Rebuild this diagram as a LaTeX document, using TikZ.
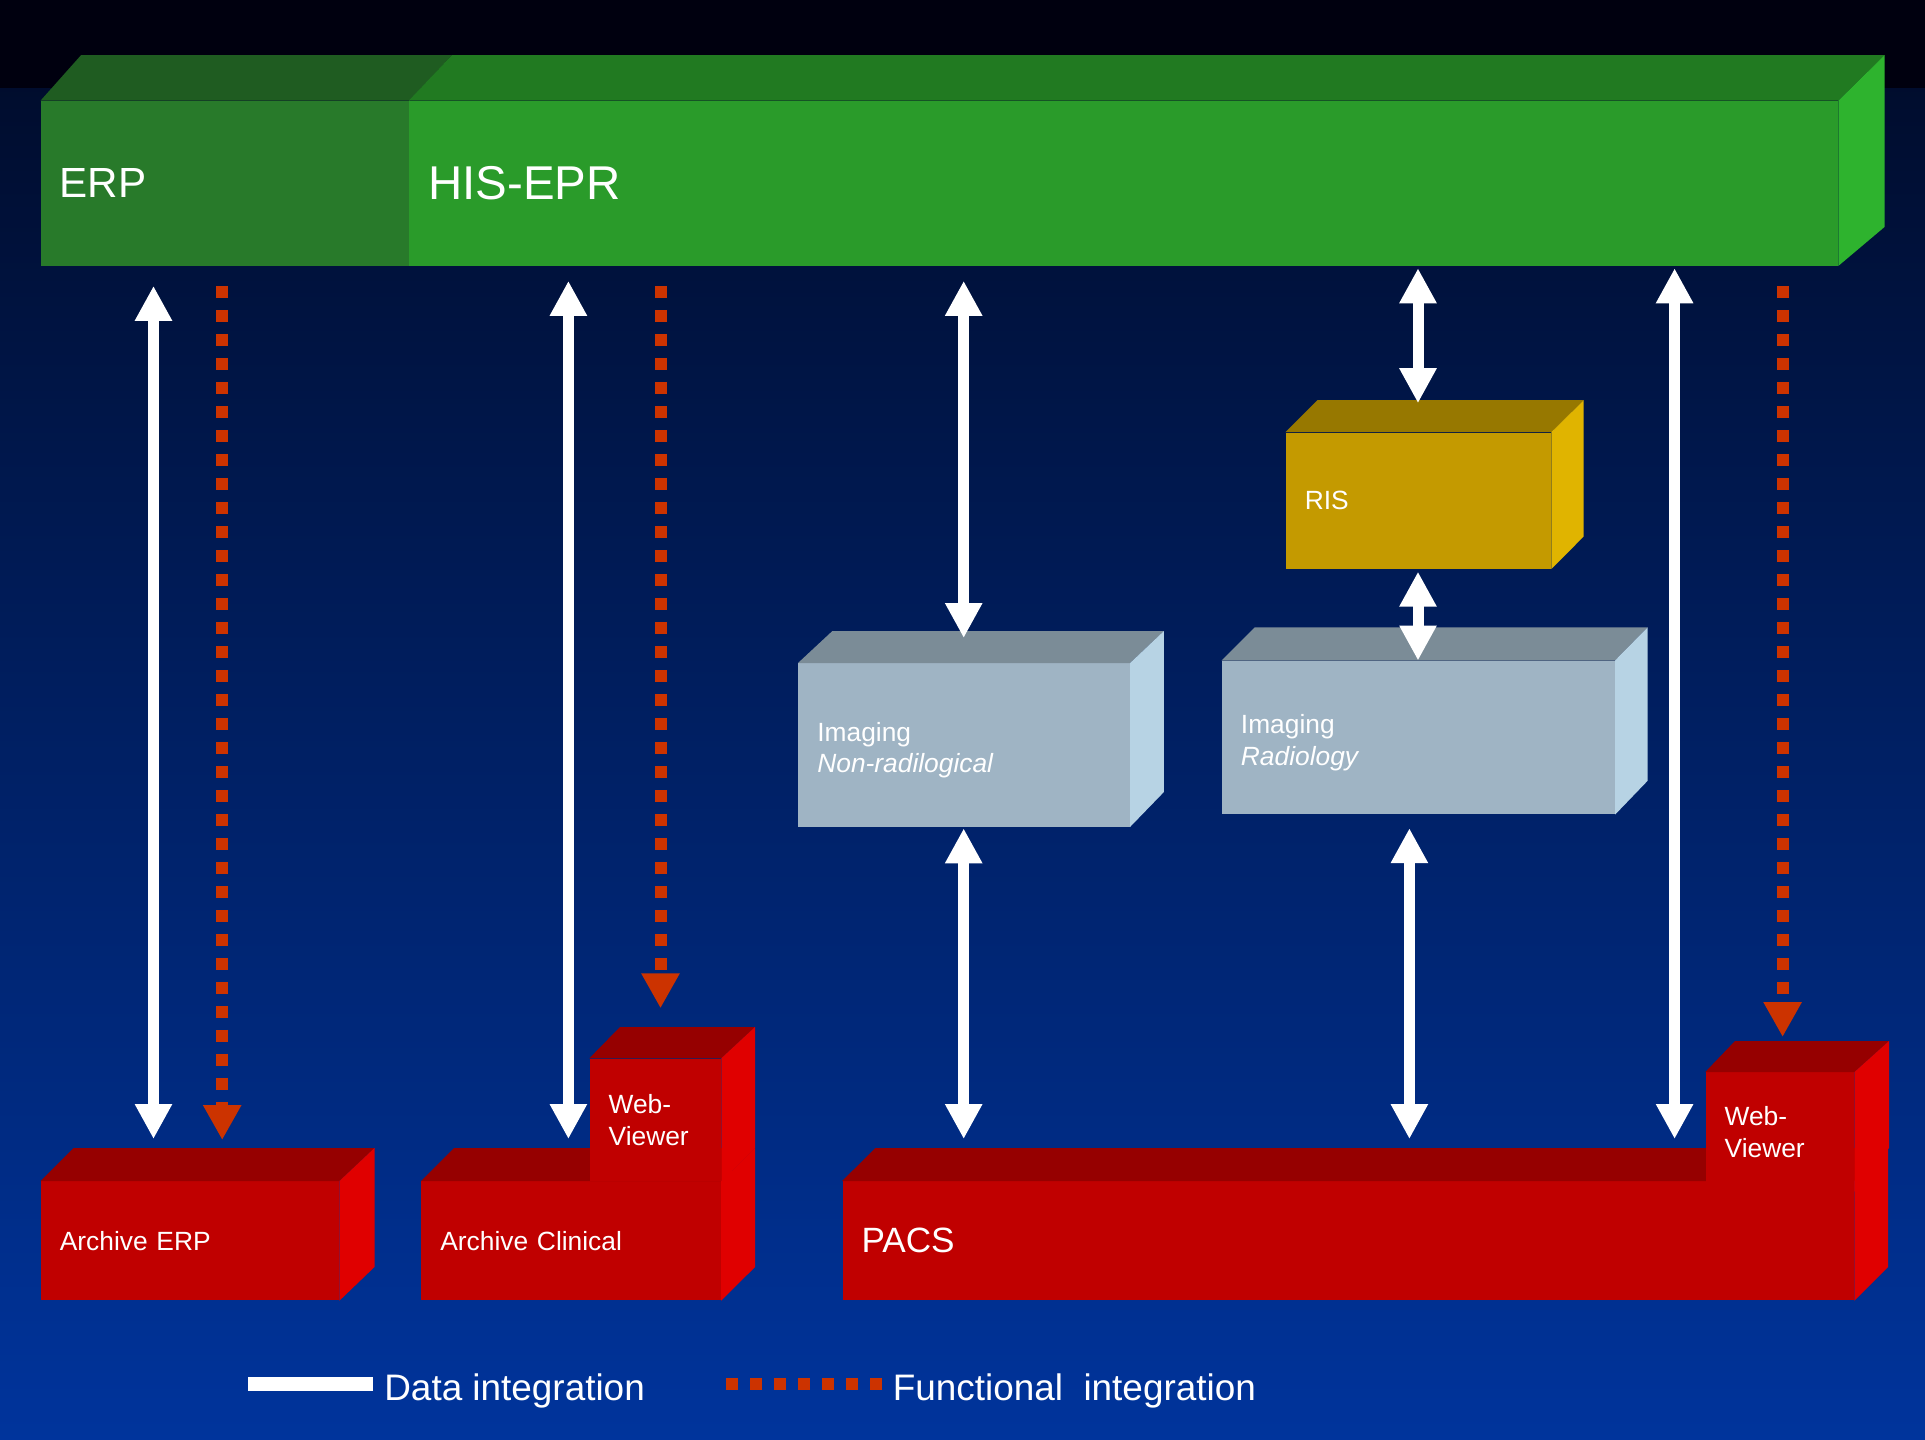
\documentclass[tikz,border=0pt]{standalone}
\usepackage{fontspec}
\setmainfont{Liberation Sans}
\usetikzlibrary{arrows.meta,calc}
\definecolor{BgTop}{HTML}{00000F}
\definecolor{BgMid}{HTML}{001F5C}
\definecolor{BgBot}{HTML}{00349C}
\definecolor{ErpFront}{HTML}{287A2A}
\definecolor{ErpTop}{HTML}{1F5C21}
\definecolor{HisFront}{HTML}{2A9B2A}
\definecolor{HisTop}{HTML}{217A21}
\definecolor{HisSide}{HTML}{2EB32E}
\definecolor{RisFront}{HTML}{C49A00}
\definecolor{RisTop}{HTML}{977800}
\definecolor{RisSide}{HTML}{E0B400}
\definecolor{ImgFront}{HTML}{9FB4C4}
\definecolor{ImgTop}{HTML}{7B8C97}
\definecolor{ImgSide}{HTML}{B7D3E4}
\definecolor{RedFront}{HTML}{C00000}
\definecolor{RedTop}{HTML}{960000}
\definecolor{RedSide}{HTML}{E00000}
\definecolor{Func}{HTML}{CC3300}
\tikzset{
 box/.style={anchor=north west,inner xsep=0.38cm,inner ysep=0pt,align=left,text=white,font=\fontsize{15}{18}\selectfont},
 dataflow/.style={{Triangle[length=0.7cm,width=0.7cm]}-{Triangle[length=0.7cm,width=0.7cm]},line width=0.22cm,draw=white},
 funcflow/.style={-{Triangle[length=0.7cm,width=0.72cm]},line width=0.24cm,draw=Func,dash pattern=on 0.24cm off 0.24cm},
 keytext/.style={anchor=base west,inner sep=0pt,text=white,font=\fontsize{21}{25}\selectfont}
}
\begin{document}
\begin{tikzpicture}[x=0.02cm,y=-0.02cm]
% background
\fill[BgTop] (0,0) rectangle (1925,88);
\shade[top color=BgTop!60!BgMid,middle color=BgMid,bottom color=BgBot] (0,88) rectangle (1925,1440);
% top bar
\node[box,fill=ErpFront,minimum height=3.29cm,text width=6.606cm,font=\fontsize{24}{28}\selectfont] (erp) at (40.5,100.7) {ERP};
\fill[ErpTop] (erp.north west) -- (81,55.2) -- (451.8,55.2) -- (erp.north east) -- cycle;
\node[box,fill=HisFront,minimum height=3.29cm,text width=27.824cm,font=\fontsize{27}{32}\selectfont] (his) at (408.8,100.7) {HIS-EPR};
\fill[HisTop] (his.north west) -- (451.8,55.2) -- (1884.5,55.2) -- (his.north east) -- cycle;
\fill[HisSide] (his.north east) -- (1884.5,55.2) -- (1884.5,227) -- (his.south east) -- cycle;
% middle boxes
\node[box,fill=RisFront,minimum height=2.724cm,text width=4.544cm] (ris) at (1285.4,432.2) {RIS};
\fill[RisTop] (ris.north west) -- (1317.3,400.2) -- (1583.7,400.2) -- (ris.north east) -- cycle;
\fill[RisSide] (ris.north east) -- (1583.7,400.2) -- (1583.7,536.5) -- (ris.south east) -- cycle;
\node[box,fill=ImgFront,minimum height=3.264cm,text width=5.87cm] (nonrad) at (798,663) {\rule{0pt}{17pt}Imaging\\\textit{Non-radilogical}};
\fill[ImgTop] (nonrad.north west) -- (832.4,631) -- (1163.9,631) -- (nonrad.north east) -- cycle;
\fill[ImgSide] (nonrad.north east) -- (1163.9,631) -- (1163.9,792) -- (nonrad.south east) -- cycle;
\node[box,fill=ImgFront,minimum height=3.07cm,text width=7.096cm] (rad) at (1221.6,660.5) {\rule{0pt}{17pt}Imaging\\\textit{Radiology}};
\fill[ImgTop] (rad.north west) -- (1254.7,627.4) -- (1647.6,627.4) -- (rad.north east) -- cycle;
\fill[ImgSide] (rad.north east) -- (1647.6,627.4) -- (1647.6,780.8) -- (rad.south east) -- cycle;
% archives
\node[box,fill=RedFront,minimum height=2.38cm,text width=5.206cm] (arcerp) at (40.5,1181) {Archive ERP};
\fill[RedTop] (arcerp.north west) -- (73.7,1148) -- (374.5,1148) -- (arcerp.north east) -- cycle;
\fill[RedSide] (arcerp.north east) -- (374.5,1148) -- (374.5,1267) -- (arcerp.south east) -- cycle;
\node[box,fill=RedFront,minimum height=2.38cm,text width=5.232cm] (arcclin) at (421,1181) {Archive Clinical};
\fill[RedTop] (arcclin.north west) -- (454.2,1148) -- (755,1148) -- (arcclin.north east) -- cycle;
\fill[RedSide] (arcclin.north east) -- (755,1148) -- (755,1267) -- (arcclin.south east) -- cycle;
\node[box,fill=RedFront,minimum height=2.454cm,text width=1.866cm] (web1) at (589.3,1058.3) {Web-\\Viewer};
\fill[RedTop] (web1.north west) -- (620,1027) -- (755,1027) -- (web1.north east) -- cycle;
\fill[RedSide] (web1.north east) -- (755,1027) -- (755,1148) -- (web1.south east) -- cycle;
\node[box,fill=RedFront,minimum height=2.38cm,text width=19.472cm,font=\fontsize{20}{24}\selectfont] (pacs) at (842.2,1181) {PACS};
\fill[RedTop] (pacs.north west) -- (875.3,1148) -- (1888.2,1148) -- (pacs.north east) -- cycle;
\fill[RedSide] (pacs.north east) -- (1888.2,1148) -- (1888.2,1267) -- (pacs.south east) -- cycle;
\node[box,fill=RedFront,minimum height=2.38cm,text width=2.21cm] (web2) at (1705.3,1072) {Web-\\Viewer};
\fill[RedTop] (web2.north west) -- (1735,1041) -- (1889,1041) -- (web2.north east) -- cycle;
\fill[RedSide] (web2.north east) -- (1889,1041) -- (1889,1148) -- (web2.south east) -- cycle;
% integration arrows
\foreach \s/\t/\x/\a/\b in {erp/arcerp/153.5/20/42,his/arcclin/568.4/15/42,his/nonrad/963.7/15/25,nonrad/pacs/963.7/1.5/42,his/ris/1418/2.4/29,ris/rad/1418/2.6/0,rad/pacs/1409.4/13.5/42,his/pacs/1674.6/2.4/42}
 \draw[dataflow,shorten <=\a*0.02cm,shorten >=\b*0.02cm] (\s.south -| \x,0) -- (\t.north -| \x,0);
\foreach \s/\t/\x/\a/\b in {erp/arcerp/222.2/20/41,his/web1/660.5/20/50,his/web2/1782.6/20/35}
 \draw[funcflow,shorten <=\a*0.02cm,shorten >=\b*0.02cm] (\s.south -| \x,0) -- (\t.north -| \x,0);
% legend
\node[keytext] (ldata) at (384,1400) {Data integration};
\node[keytext] (lfunc) at (892.5,1400) {Functional~ integration};
\draw[line width=0.27cm,white] ($(ldata.base west)+(-11,-16)$) -- ++(-125,0);
\draw[funcflow,-] ($(lfunc.base west)+(-11,-16)$) -- ++(-156,0);
\end{tikzpicture}
\end{document}
